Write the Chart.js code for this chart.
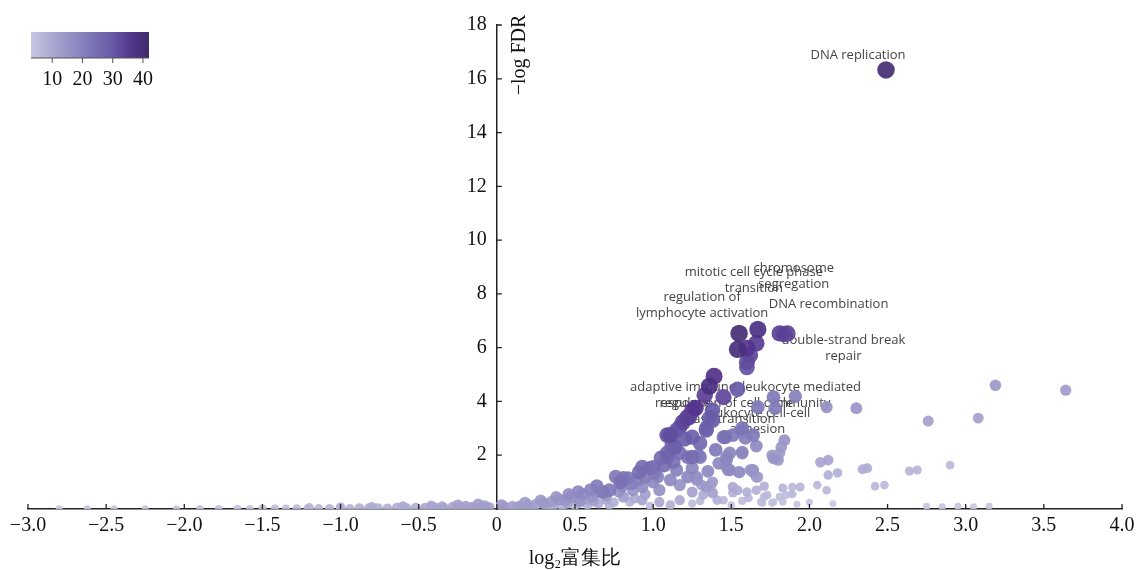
<!DOCTYPE html>
<html>
<head>
<meta charset="utf-8">
<script src="https://cdn.jsdelivr.net/npm/chart.js@4.4.1/dist/chart.umd.min.js"></script>
<style>
  html, body { margin: 0; padding: 0; background: #fff; }
  #wrap { width: 1137px; height: 570px; position: relative; }
</style>
</head>
<body>
<div id="wrap"><canvas id="chart"></canvas></div>
<script>
// GO terms: log2 enrichment ratio, -log FDR, gene count (colour + size)
// the first ten entries are the labelled terms
const enrichRatio = [
  2.49, 1.67, 1.81, 1.55, 1.86, 1.84, 1.39, 1.54, 1.36, 1.45,
  1.54, 1.60, 1.66, 1.60, 1.62, 1.60, 1.33, 1.77, 1.91, 1.27,
  1.22, 1.38, 1.36, 1.67, 1.78, 1.25, 1.11, 1.17, 1.25, 1.34,
  1.46, 1.57, 1.64, 1.14, 1.25, 1.30, 1.09, 0.93, 1.00, 0.81,
  0.68, 0.90, 1.15, 1.47, 1.48, 1.55, 1.64, 0.44, 0.53, 1.28,
  1.25, 1.37, 1.41, 1.17, 1.11, 1.04, 0.93, 3.19, 3.64, 3.08,
  2.76, 2.30, 2.11, 2.90, 2.69, 2.64, 2.48, 2.42, 2.34, 2.37,
  2.12, 2.07, 2.18, 2.12, 2.05, 2.11, 1.94, 1.89, 1.83, 1.85,
  1.71, 1.71, 1.76, 1.83, 1.70, 1.84, 1.66, 1.77, 1.80, 1.64,
  1.66, 0.72, 0.67, 0.79, 0.84, 0.91, 0.98, 1.01, 1.07, 1.09,
  1.12, 1.09, 1.15, 1.19, 1.23, 1.17, 1.22, 1.29, 1.25, 1.22,
  1.28, 1.34, 1.38, 1.00, 0.93, 1.04, 1.11, 1.17, 0.87, 0.81,
  0.61, 0.53, 0.45, 0.36, 1.34, 1.38, 1.45, 1.49, 1.47, 1.49,
  1.55, 1.62, 1.57, 1.59, 1.51, 1.79, 1.81, 1.54, 1.60, 1.66,
  1.73, 1.81, 1.89, 1.57, 1.57, 1.47, 1.63, 1.67, 1.76, 1.82,
  1.51, 1.51, 1.38, 1.45, 1.32, 1.31, 1.61, 1.69, 1.77, 0.05,
  0.10, 0.15, 0.20, 0.25, 0.30, 0.35, 0.40, 0.48, 0.55, 0.60,
  0.64, 0.76, 0.12, 0.22, 0.32, 0.42, 0.50, 0.58, 0.65, 0.70,
  0.75, 0.85, 0.58, 0.70, 0.78, 0.95, 0.88, 0.98, 1.25, 1.30,
  1.50, 1.57, 1.92, 2.00, 2.15, 2.75, 2.85, 2.95, 3.05, 3.15,
  -0.05, -0.10, -0.16, -0.22, -0.28, -0.34, -0.40, -0.46, -0.52, -0.58,
  -0.64, -0.70, -0.76, -0.82, -0.88, -0.94, -1.00, -1.07, -1.14, -1.21,
  -1.28, -1.35, -1.42, -1.50, -1.58, -1.66, -1.78, -1.90, -2.05, -2.25,
  -2.45, -2.62, -2.80, -0.08, -0.20, -0.35, 0.62, 0.72, 0.80, 0.86,
  0.95, 1.05, 1.03, 1.13, 1.20, 1.30, 1.40, 1.42, 1.35, -0.12,
  -0.25, -0.42, -0.60, -0.80, -1.00, -1.20, 0.03, 0.18, 0.28, 0.38,
  0.46, 0.52
];
const negLogFdr = [
  16.33, 6.68, 6.53, 6.53, 6.53, 6.50, 4.94, 4.45, 4.57, 4.16,
  5.94, 5.98, 6.16, 5.46, 5.72, 5.27, 4.23, 4.16, 4.19, 3.75,
  3.41, 3.67, 3.38, 3.79, 3.75, 3.67, 2.75, 3.04, 2.67, 3.00,
  2.67, 3.00, 2.75, 2.30, 1.93, 1.93, 1.93, 1.56, 1.56, 1.15,
  0.63, 1.08, 1.45, 1.93, 1.45, 1.37, 1.45, 0.33, 0.33, 1.19,
  0.63, 0.89, 0.33, 0.33, 0.15, 0.26, 0.33, 4.60, 4.42, 3.38,
  3.27, 3.75, 3.79, 1.63, 1.45, 1.41, 0.89, 0.85, 1.48, 1.52,
  1.82, 1.74, 1.34, 1.26, 0.89, 0.70, 0.82, 0.56, 0.78, 0.52,
  0.85, 0.45, 0.22, 0.26, 0.22, 2.56, 2.34, 1.89, 1.82, 1.37,
  1.19, 0.70, 0.63, 1.00, 1.15, 1.37, 1.52, 1.34, 1.63, 2.08,
  2.38, 2.75, 2.93, 3.23, 3.41, 2.08, 1.93, 2.00, 1.52, 1.19,
  1.08, 0.82, 0.60, 1.00, 0.82, 0.70, 1.08, 0.89, 0.70, 0.45,
  0.45, 0.26, 0.22, 0.15, 2.93, 3.30, 2.67, 2.08, 1.82, 1.45,
  1.37, 1.45, 2.08, 2.64, 2.75, 1.89, 2.08, 0.70, 0.63, 0.70,
  0.52, 0.45, 0.82, 2.86, 2.12, 1.56, 1.45, 1.19, 2.00, 2.30,
  0.82, 0.60, 1.00, 0.33, 0.52, 0.89, 0.41, 0.26, 0.26, 0.08,
  0.10, 0.12, 0.15, 0.18, 0.22, 0.28, 0.35, 0.45, 0.55, 0.72,
  0.85, 1.20, 0.05, 0.06, 0.08, 0.10, 0.12, 0.15, 0.20, 0.35,
  0.25, 0.25, 0.35, 0.50, 0.65, 0.55, 0.40, 0.12, 0.20, 0.30,
  0.15, 0.30, 0.18, 0.25, 0.20, 0.10, 0.08, 0.10, 0.08, 0.10,
  0.06, 0.05, 0.07, 0.05, 0.08, 0.04, 0.06, 0.04, 0.05, 0.04,
  0.05, 0.03, 0.04, 0.03, 0.04, 0.02, 0.03, 0.02, 0.03, 0.02,
  0.02, 0.02, 0.02, 0.02, 0.01, 0.02, 0.01, 0.01, 0.01, 0.01,
  0.01, 0.01, 0.01, 0.12, 0.10, 0.09, 0.30, 0.15, 0.85, 0.95,
  1.20, 1.90, 1.20, 1.75, 2.60, 2.45, 2.20, 1.70, 1.40, 0.18,
  0.15, 0.12, 0.10, 0.08, 0.07, 0.05, 0.15, 0.25, 0.32, 0.45,
  0.55, 0.65
];
const geneCount = [
  40, 38, 34, 40, 33, 33, 37, 30, 38, 33,
  39, 36, 35, 32, 33, 31, 34, 22, 20, 36,
  34, 30, 29, 22, 21, 33, 32, 30, 28, 27,
  24, 23, 22, 28, 25, 22, 26, 25, 24, 23,
  21, 20, 20, 18, 17, 16, 15, 14, 15, 16,
  12, 12, 8, 10, 8, 10, 11, 14, 13, 12,
  12, 15, 16, 6, 7, 7, 6, 6, 9, 9,
  11, 11, 8, 8, 6, 6, 7, 6, 7, 5,
  8, 6, 4, 4, 4, 15, 18, 15, 14, 14,
  13, 22, 20, 24, 22, 25, 24, 22, 25, 27,
  27, 31, 30, 33, 33, 24, 22, 20, 19, 18,
  16, 14, 12, 18, 17, 16, 18, 16, 15, 13,
  15, 13, 12, 11, 28, 29, 22, 19, 18, 17,
  15, 14, 18, 20, 22, 13, 13, 9, 8, 8,
  6, 5, 6, 20, 17, 16, 14, 12, 13, 14,
  10, 8, 13, 6, 9, 12, 6, 5, 4, 12,
  12, 13, 13, 12, 14, 13, 15, 16, 17, 19,
  21, 22, 9, 9, 8, 8, 7, 8, 9, 10,
  8, 7, 12, 14, 16, 12, 10, 5, 5, 6,
  4, 5, 3, 3, 3, 3, 3, 3, 3, 3,
  12, 11, 12, 11, 11, 10, 10, 10, 9, 9,
  9, 8, 8, 8, 8, 7, 7, 7, 6, 6,
  6, 5, 5, 5, 4, 4, 4, 4, 3, 3,
  3, 3, 3, 13, 12, 11, 12, 8, 18, 20,
  21, 26, 19, 24, 29, 26, 22, 18, 18, 13,
  12, 11, 10, 9, 8, 7, 14, 13, 14, 15,
  17, 18
];
const termNames = [
  ["DNA replication"],
  ["mitotic cell cycle phase", "transition"],
  ["chromosome", "segregation"],
  ["regulation of", "lymphocyte activation"],
  ["DNA recombination"],
  ["double-strand break", "repair"],
  ["adaptive immune", "response"],
  ["leukocyte mediated", "immunity"],
  ["regulation of cell cycle", "phase transition"],
  ["leukocyte cell-cell", "adhesion"]
];
const countTicks = [10, 20, 30, 40];
const xTicks = [-3, -2.5, -2, -1.5, -1, -0.5, 0, 0.5, 1, 1.5, 2, 2.5, 3, 3.5, 4];
const yTicks = [2, 4, 6, 8, 10, 12, 14, 16, 18];

// styling
const countMin = 3, countMax = 42;
const labelOffsets = [
  [-28, -15], [-4, -49], [14, -57], [-37, -28], [41, -29],
  [59, 14], [-31, 19], [64, 6], [17, 25], [34, 24]
];
const stops = [
  [0.0, 198, 198, 225],
  [0.2, 168, 165, 208],
  [0.45, 132, 127, 187],
  [0.7, 102, 88, 166],
  [0.85, 84, 50, 140],
  [1.0, 62, 44, 105]
];
function colorFor(c, a) {
  let t = Math.min(1, Math.max(0, (c - countMin) / (countMax - countMin)));
  for (let i = 1; i < stops.length; i++) {
    if (t <= stops[i][0]) {
      const s0 = stops[i - 1], s1 = stops[i];
      const f = (t - s0[0]) / (s1[0] - s0[0]);
      const r = Math.round(s0[1] + (s1[1] - s0[1]) * f);
      const g = Math.round(s0[2] + (s1[2] - s0[2]) * f);
      const b = Math.round(s0[3] + (s1[3] - s0[3]) * f);
      return `rgba(${r},${g},${b},${a})`;
    }
  }
  return `rgba(62,44,105,${a})`;
}
const radiusFor = (c) => 1.5 + 1.15 * Math.sqrt(c);

// draw darker (larger count) points last
let order = [];
for (let i = 0; i < enrichRatio.length; i++) order.push(i);
order.sort((a, b) => geneCount[a] - geneCount[b]);

const points = order.map((i) => ({ x: enrichRatio[i], y: negLogFdr[i] }));
const pointColors = order.map((i) => colorFor(geneCount[i], 0.92));
const pointSizes = order.map((i) => radiusFor(geneCount[i]));

const serif = "'Liberation Serif', 'Times New Roman', serif";
const minus = (v) => (v < 0 ? "\u2212" + Math.abs(v).toFixed(1) : v === 0 ? "0" : v.toFixed(1));

const decorations = {
  id: "decorations",
  beforeDatasetsDraw(chart) {
    // term labels sit under the points
    const { ctx, scales } = chart;
    ctx.save();
    ctx.font = "13px 'Open Sans', sans-serif";
    ctx.fillStyle = "#444";
    ctx.textAlign = "center";
    ctx.textBaseline = "middle";
    termNames.forEach((lines, i) => {
      const px = scales.x.getPixelForValue(enrichRatio[i]) + labelOffsets[i][0];
      const py = scales.y.getPixelForValue(negLogFdr[i]) + labelOffsets[i][1];
      const top = py - ((lines.length - 1) * 16) / 2;
      lines.forEach((s, k) => ctx.fillText(s, px, top + k * 16));
    });
    ctx.restore();
  },
  afterDraw(chart) {
    const { ctx, scales } = chart;
    const x0 = scales.x.getPixelForValue(0);
    const yb = scales.y.getPixelForValue(0);
    ctx.save();
    ctx.strokeStyle = "#222";
    ctx.lineWidth = 1.3;
    ctx.beginPath();
    xTicks.forEach((v) => {
      const px = scales.x.getPixelForValue(v);
      ctx.moveTo(px, yb);
      ctx.lineTo(px, yb - 5);
    });
    yTicks.forEach((v) => {
      const py = scales.y.getPixelForValue(v);
      ctx.moveTo(x0, py);
      ctx.lineTo(x0 + 5, py);
    });
    ctx.stroke();

    // y tick labels, left of the axis
    ctx.fillStyle = "#111";
    ctx.font = "20px " + serif;
    ctx.textAlign = "right";
    ctx.textBaseline = "middle";
    yTicks.forEach((v) => {
      ctx.fillText(String(v), x0 - 10, scales.y.getPixelForValue(v));
    });

    // y title, rotated, next to the top of the axis
    ctx.translate(x0 + 23, 55);
    ctx.rotate(-Math.PI / 2);
    ctx.textAlign = "center";
    ctx.fillText("\u2212log FDR", 0, 0);
    ctx.restore();

    // colour bar legend
    const bx = 31, bw = 118, by = 32, bh = 26;
    ctx.save();
    const grad = ctx.createLinearGradient(bx, 0, bx + bw, 0);
    for (let k = 0; k <= 10; k++) {
      grad.addColorStop(k / 10, colorFor(countMin + (countMax - countMin) * (k / 10), 1));
    }
    ctx.fillStyle = grad;
    ctx.fillRect(bx, by, bw, bh);
    ctx.strokeStyle = "#555";
    ctx.lineWidth = 1;
    ctx.beginPath();
    ctx.moveTo(bx, by + bh);
    ctx.lineTo(bx + bw, by + bh);
    countTicks.forEach((c) => {
      const px = bx + ((c - countMin) / (countMax - countMin)) * bw;
      ctx.moveTo(px, by + bh);
      ctx.lineTo(px, by + bh + 5);
    });
    ctx.stroke();
    ctx.fillStyle = "#111";
    ctx.font = "20px " + serif;
    ctx.textAlign = "center";
    ctx.textBaseline = "middle";
    countTicks.forEach((c) => {
      const px = bx + ((c - countMin) / (countMax - countMin)) * bw;
      ctx.fillText(String(c), px, 80);
    });
    ctx.restore();
  }
};

new Chart(document.getElementById("chart"), {
  type: "scatter",
  data: {
    datasets: [
      {
        data: points,
        backgroundColor: pointColors,
        borderWidth: 0,
        pointRadius: pointSizes,
        pointHoverRadius: pointSizes
      }
    ]
  },
  options: {
    responsive: true,
    maintainAspectRatio: false,
    animation: false,
    layout: { padding: { left: 28, right: 15, top: 25, bottom: 0 } },
    plugins: { legend: { display: false }, tooltip: { enabled: false } },
    scales: {
      x: {
        type: "linear",
        position: "bottom",
        min: -3,
        max: 4,
        afterBuildTicks: (scale) => { scale.ticks = xTicks.map((v) => ({ value: v })); },
        afterFit: (scale) => { scale.paddingLeft = 0; scale.paddingRight = 0; },
        ticks: {
          autoSkip: false,
          maxRotation: 0,
          padding: 5,
          color: "#111",
          font: { family: serif, size: 20 },
          callback: (v) => minus(v)
        },
        grid: { display: false, drawTicks: false },
        border: { display: true, color: "#222", width: 1.5 },
        title: {
          display: true,
          text: "log\u2082富集比",
          color: "#111",
          font: { family: serif, size: 20, lineHeight: 1.1 },
          padding: { top: 5, bottom: 0 }
        }
      },
      y: {
        type: "linear",
        position: { x: 0 },
        min: 0,
        max: 18,
        ticks: { display: false },
        grid: { display: false, drawTicks: false },
        border: { display: true, color: "#222", width: 1.5 }
      }
    }
  },
  plugins: [decorations]
});
</script>
</body>
</html>
